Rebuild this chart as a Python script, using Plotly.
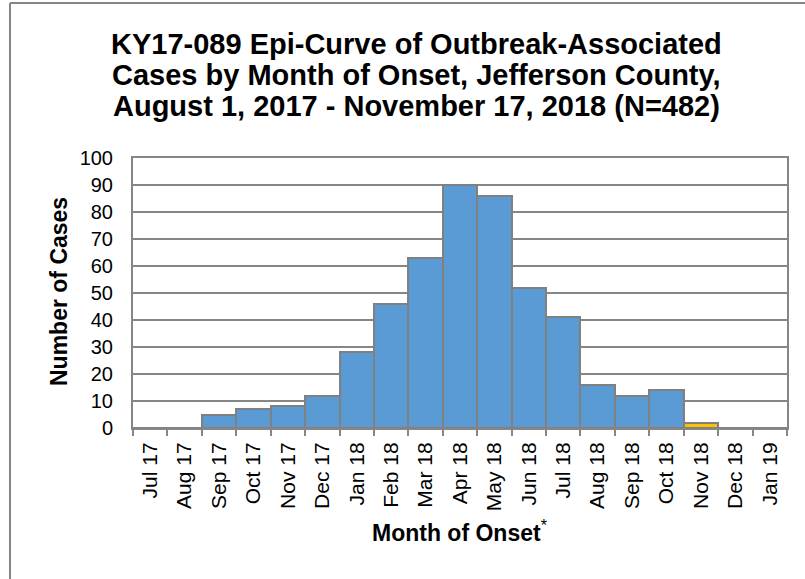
import plotly.graph_objects as go

months = ["Jul 17", "Aug 17", "Sep 17", "Oct 17", "Nov 17", "Dec 17", "Jan 18", "Feb 18",
          "Mar 18", "Apr 18", "May 18", "Jun 18", "Jul 18", "Aug 18", "Sep 18", "Oct 18",
          "Nov 18", "Dec 18", "Jan 19"]
cases = [0, 0, 5, 7, 8, 12, 28, 46, 63, 90, 86, 52, 41, 16, 12, 14, 2, 0, 0]
bar_colors = ["#5B9BD5"] * 16 + ["#FFC000"] + ["#5B9BD5"] * 2
title_lines = ["KY17-089 Epi-Curve of Outbreak-Associated",
               "Cases by Month of Onset, Jefferson County,",
               "August 1, 2017 - November 17, 2018 (N=482)"]

W, H = 805, 579
L, R, T, B = 133, 18, 158, 151
pw, ph = W - L - R, H - T - B

def px(x):
    return (x - L) / pw

def py(y):
    return (H - B - y) / ph

fig = go.Figure()
fig.add_trace(go.Bar(
    x=months, y=cases,
    marker=dict(color=bar_colors, line=dict(color="#808080", width=2)),
))

ff = "Liberation Sans, Arial, sans-serif"

annotations = []
for i, (txt, yc) in enumerate(zip(title_lines, [44, 75, 106])):
    annotations.append(dict(
        text="<b>" + txt + "</b>", xref="paper", yref="paper",
        x=px(416.5), y=py(yc), xanchor="center", yanchor="middle",
        showarrow=False, font=dict(size=29, family=ff, color="black"),
    ))
annotations.append(dict(
    text="<b>Number of Cases</b>", xref="paper", yref="paper",
    x=px(59), y=py(292), xanchor="center", yanchor="middle", textangle=-90,
    showarrow=False, font=dict(size=23, family=ff, color="black"),
))
annotations.append(dict(
    text="<b>Month of Onset</b><sup>*</sup>", xref="paper", yref="paper",
    x=px(460), y=py(531), xanchor="center", yanchor="middle",
    showarrow=False, font=dict(size=23, family=ff, color="black"),
))

fig.update_layout(
    width=W, height=H,
    margin=dict(l=L, r=R, t=T, b=B),
    paper_bgcolor="white", plot_bgcolor="white",
    bargap=0,
    showlegend=False,
    font=dict(family=ff, color="black"),
    xaxis=dict(
        type="category",
        tickangle=-90,
        tickson="boundaries",
        ticks="outside", ticklen=6, tickcolor="#868686", tickwidth=2,
        showline=True, linecolor="#868686", linewidth=2, mirror=True,
        showgrid=False,
        ticklabelstandoff=4,
        tickfont=dict(size=21, family=ff, color="black"),
    ),
    yaxis=dict(
        range=[0, 100], dtick=10,
        showline=True, linecolor="#868686", linewidth=2, mirror=True,
        showgrid=True, gridcolor="#868686", gridwidth=1.5,
        ticks="", zeroline=False,
        ticklabelstandoff=14,
        tickfont=dict(size=20, family=ff, color="black"),
    ),
    annotations=annotations,
    shapes=[
        dict(type="line", xref="paper", yref="paper",
             x0=px(10), y0=py(580), x1=px(10), y1=py(3),
             line=dict(color="#868686", width=2)),
        dict(type="line", xref="paper", yref="paper",
             x0=px(10), y0=py(3), x1=px(806), y1=py(3),
             line=dict(color="#868686", width=2)),
    ],
)

fig.write_html("out.html", config={"displayModeBar": False},
               post_script="document.body.style.margin='0';")
